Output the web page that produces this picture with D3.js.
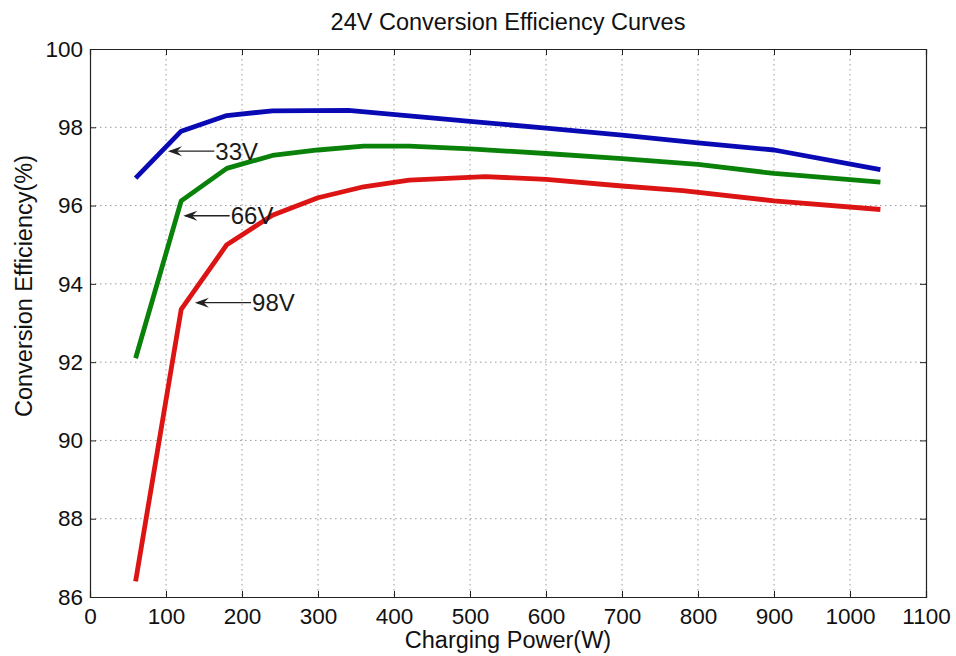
<!DOCTYPE html>
<html>
<head>
<meta charset="utf-8">
<script src="https://cdn.jsdelivr.net/npm/d3@7"></script>
<style>
  html, body { margin: 0; padding: 0; background: #fff; }
  svg { display: block; font-family: "Liberation Sans", Arial, Helvetica, sans-serif; }
</style>
</head>
<body>
<svg id="chart" width="956" height="656"></svg>
<script>
// ---- data ----
const xTicks = [0, 100, 200, 300, 400, 500, 600, 700, 800, 900, 1000, 1100];
const yTicks = [86, 88, 90, 92, 94, 96, 98, 100];

const power33 = [60, 120, 180, 240, 340, 500, 600, 700, 800, 900, 1040];
const eff33   = [96.7, 97.9, 98.3, 98.42, 98.43, 98.15, 97.98, 97.8, 97.6, 97.42, 96.92];

const power66 = [60, 120, 180, 240, 300, 360, 420, 500, 600, 700, 800, 900, 1040];
const eff66   = [92.1, 96.12, 96.95, 97.28, 97.42, 97.52, 97.52, 97.45, 97.33, 97.2, 97.05, 96.82, 96.6];

const power98 = [60, 120, 180, 240, 300, 360, 420, 520, 600, 700, 780, 900, 1040];
const eff98   = [86.4, 93.35, 95.0, 95.75, 96.2, 96.48, 96.65, 96.74, 96.67, 96.5, 96.38, 96.12, 95.9];

const seriesNames = ["33V", "66V", "98V"];
const seriesColors = ["#0a0ab4", "#0a820a", "#dc1414"];
// annotation arrow tips in data units (power W, efficiency %)
const annTipX = [102.6, 122.8, 138];
const annTipY = [97.39, 95.74, 93.52];
const annLen  = [61, 61, 74]; // arrow length in W

const titleText = "24V Conversion Efficiency Curves";
const xLabel = "Charging Power(W)";
const yLabel = "Conversion Efficiency(%)";

// ---- layout ----
const svg = d3.select("#chart");
const m = { left: 90, top: 49, right: 30, bottom: 59 };
const W = 956 - m.left - m.right;   // 836
const H = 656 - m.top - m.bottom;   // 548

const x = d3.scaleLinear().domain([0, 1100]).range([0, W]);
const y = d3.scaleLinear().domain([86, 100]).range([H, 0]);

const g = svg.append("g").attr("transform", `translate(${m.left},${m.top})`);

// grid
g.append("g").selectAll("line").data(xTicks.slice(1, -1)).join("line")
  .attr("x1", d => x(d)).attr("x2", d => x(d)).attr("y1", 0).attr("y2", H)
  .attr("stroke", "#999").attr("stroke-width", 1).attr("stroke-dasharray", "1.5,3.5");
g.append("g").selectAll("line").data(yTicks.slice(1, -1)).join("line")
  .attr("y1", d => y(d)).attr("y2", d => y(d)).attr("x1", 0).attr("x2", W)
  .attr("stroke", "#999").attr("stroke-width", 1).attr("stroke-dasharray", "1.5,3.5");

// axes
const xAxis = d3.axisBottom(x).tickValues(xTicks).tickSize(-6).tickPadding(11).tickFormat(d3.format("d"));
const yAxis = d3.axisLeft(y).tickValues(yTicks).tickSize(-6).tickPadding(7).tickFormat(d3.format("d"));
const xa = g.append("g").attr("transform", `translate(0,${H})`).call(xAxis);
const ya = g.append("g").call(yAxis);
const xTop = g.append("g").call(d3.axisTop(x).tickValues(xTicks).tickSize(-6).tickFormat(""));
const yRight = g.append("g").attr("transform", `translate(${W},0)`).call(d3.axisRight(y).tickValues(yTicks).tickSize(-6).tickFormat(""));
[xa, ya, xTop, yRight].forEach(a => {
  a.select(".domain").attr("stroke", "#222").attr("stroke-width", 1.2);
  a.selectAll(".tick line").attr("stroke", "#222");
  a.selectAll("text").attr("fill", "#111").attr("font-size", 22.5)
    .attr("font-family", "Liberation Sans, Arial, sans-serif");
});

// lines
const line = d3.line().x(d => x(d[0])).y(d => y(d[1]));
const series = [
  d3.zip(power33, eff33),
  d3.zip(power66, eff66),
  d3.zip(power98, eff98)
];
g.append("g").selectAll("path").data(series).join("path")
  .attr("d", line).attr("fill", "none")
  .attr("stroke", (d, i) => seriesColors[i])
  .attr("stroke-width", 4.8).attr("stroke-linejoin", "round");

// annotations
const ann = g.append("g");
seriesNames.forEach((name, i) => {
  const tx = x(annTipX[i]), ty = y(annTipY[i]);
  const ex = x(annTipX[i] + annLen[i]);
  ann.append("line").attr("x1", tx + 2).attr("y1", ty).attr("x2", ex).attr("y2", ty)
    .attr("stroke", "#222").attr("stroke-width", 1.3);
  ann.append("path")
    .attr("d", `M${tx},${ty} L${tx + 14},${ty - 5} L${tx + 9},${ty} L${tx + 14},${ty + 5} Z`)
    .attr("fill", "#222");
  ann.append("text").attr("x", ex + 1).attr("y", ty + 8.5)
    .attr("font-size", 24).attr("fill", "#1a1a1a").text(name);
});

// title and labels
svg.append("text").attr("x", m.left + W / 2).attr("y", 30).attr("text-anchor", "middle")
  .attr("font-size", 23.5).attr("fill", "#111").text(titleText);
svg.append("text").attr("x", m.left + W / 2).attr("y", 648).attr("text-anchor", "middle")
  .attr("font-size", 23.5).attr("fill", "#111").text(xLabel);
svg.append("text").attr("transform", "translate(32,286) rotate(-90)").attr("text-anchor", "middle")
  .attr("font-size", 23.5).attr("fill", "#111").text(yLabel);
</script>
</body>
</html>
